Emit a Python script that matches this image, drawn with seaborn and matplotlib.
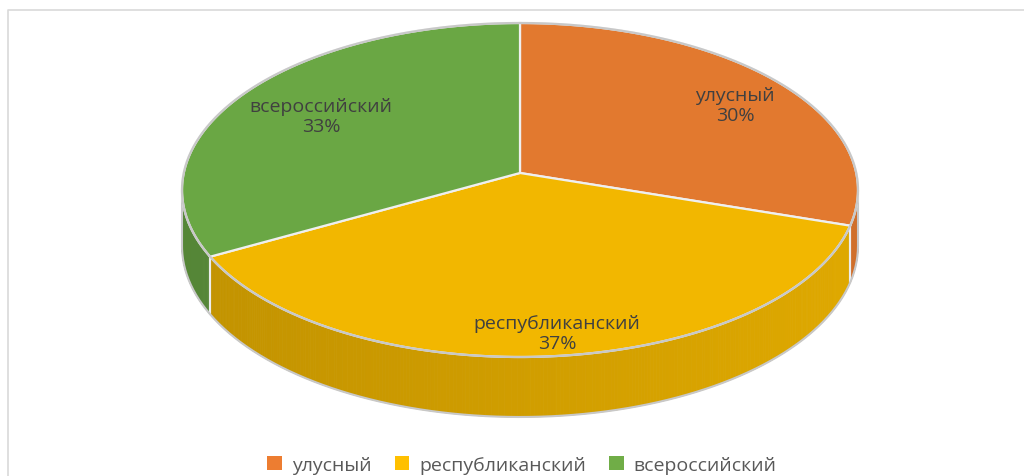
import numpy as np
import matplotlib.pyplot as plt
import seaborn as sns
from matplotlib.patches import Polygon, Patch
from matplotlib.colors import to_rgb

# data
categories = ['улусный', 'республиканский', 'всероссийский']
shares = [30, 37, 33]
top_colors = ['#E2792F', '#F2B700', '#6AA744']
legend_colors = ['#ED7D31', '#FFC000', '#70AD47']

sns.set_theme(style='white')
plt.rcParams['font.family'] = ['Open Sans', 'DejaVu Sans']

# pie geometry (pixels, y down)
cx, cy, rx, ry = 520, 191, 338, 167
v = 0.102  # perspective shift of the centre


def proj(theta):
    t = np.radians(theta)
    s, c = np.sin(t), np.cos(t)
    den = 1 + v * c
    u = s * np.sqrt(1 - v * v) / den
    w = (c + v) / den
    return cx + rx * u, cy - ry * w, w


def depth(w):
    return 56 + 4 * (-w)


fig = plt.figure(figsize=(10.24, 4.77), dpi=100)
ax = fig.add_axes([0, 0, 1, 1])
ax.set_xlim(0, 1024)
ax.set_ylim(477, 0)
ax.axis('off')

# chart frame
ax.plot([8, 8, 1024], [477, 11, 11], color='#D9D9D9', lw=1.2)

total = sum(shares)
bounds = np.concatenate([[0], np.cumsum(shares) / total * 360])
theta0 = np.degrees(np.arccos(-v))

# side walls
for i, col in enumerate(top_colors):
    a, b = max(bounds[i], theta0), min(bounds[i + 1], 360 - theta0)
    if a >= b:
        continue
    ts = np.linspace(a, b, int((b - a) * 2) + 2)
    base = np.array(to_rgb(col))
    for t1, t2 in zip(ts[:-1], ts[1:]):
        x1, y1, w1 = proj(t1)
        x2, y2, w2 = proj(t2)
        f = 0.86 + 0.06 * ((x1 + x2) / 2 - cx) / rx
        c = np.clip(base * f, 0, 1)
        ax.add_patch(Polygon([(x1, y1), (x2, y2), (x2, y2 + depth(w2)), (x1, y1 + depth(w1))],
                             closed=True, facecolor=c, edgecolor=c, lw=0.6, zorder=2))
    # vertical edges at slice boundaries on the wall
    for t in (a, b):
        if theta0 < t < 360 - theta0:
            x, y, w = proj(t)
            ax.plot([x, x], [y, y + depth(w)], color='#EDEDED', lw=1.5, zorder=3)

# outline of the wall
ts = np.linspace(theta0, 360 - theta0, 300)
xs, ys, ws = proj(ts)
ax.plot(xs, ys + depth(ws), color='#C8C8C8', lw=1.5, zorder=3)
for t in (theta0, 360 - theta0):
    x, y, w = proj(t)
    ax.plot([x, x], [y, y + depth(w)], color='#C8C8C8', lw=1.5, zorder=3)

# top face
apex = (cx, cy - ry * v)
for i, col in enumerate(top_colors):
    ts = np.linspace(bounds[i], bounds[i + 1], 200)
    xs, ys, _ = proj(ts)
    pts = [apex] + list(zip(xs, ys))
    ax.add_patch(Polygon(pts, closed=True, facecolor=col, edgecolor='#EFEFEF', lw=1.6, zorder=4))

ts = np.linspace(0, 360, 600)
xs, ys, _ = proj(ts)
ax.plot(xs, ys, color='#C8C8C8', lw=1.6, zorder=5)

# data labels
label_pos = [(735, 106), (557, 334), (321, 117)]
for name, share, (lx, ly) in zip(categories, shares, label_pos):
    ax.text(lx, ly, f'{name}\n{round(share / total * 100)}%', ha='center', va='center',
            fontsize=14, color='#404040', linespacing=1.15, zorder=6)

# legend
handles = [Patch(facecolor=c, edgecolor='none', label=n) for n, c in zip(categories, legend_colors)]
fig.legend(handles=handles, loc='center', bbox_to_anchor=(522 / 1024, 1 - 466 / 477), ncol=3,
           frameon=False, fontsize=14, labelcolor='#595959', handlelength=0.75, handleheight=0.75,
           handletextpad=0.5, columnspacing=1.2)

fig.savefig('out.png', dpi=100)
